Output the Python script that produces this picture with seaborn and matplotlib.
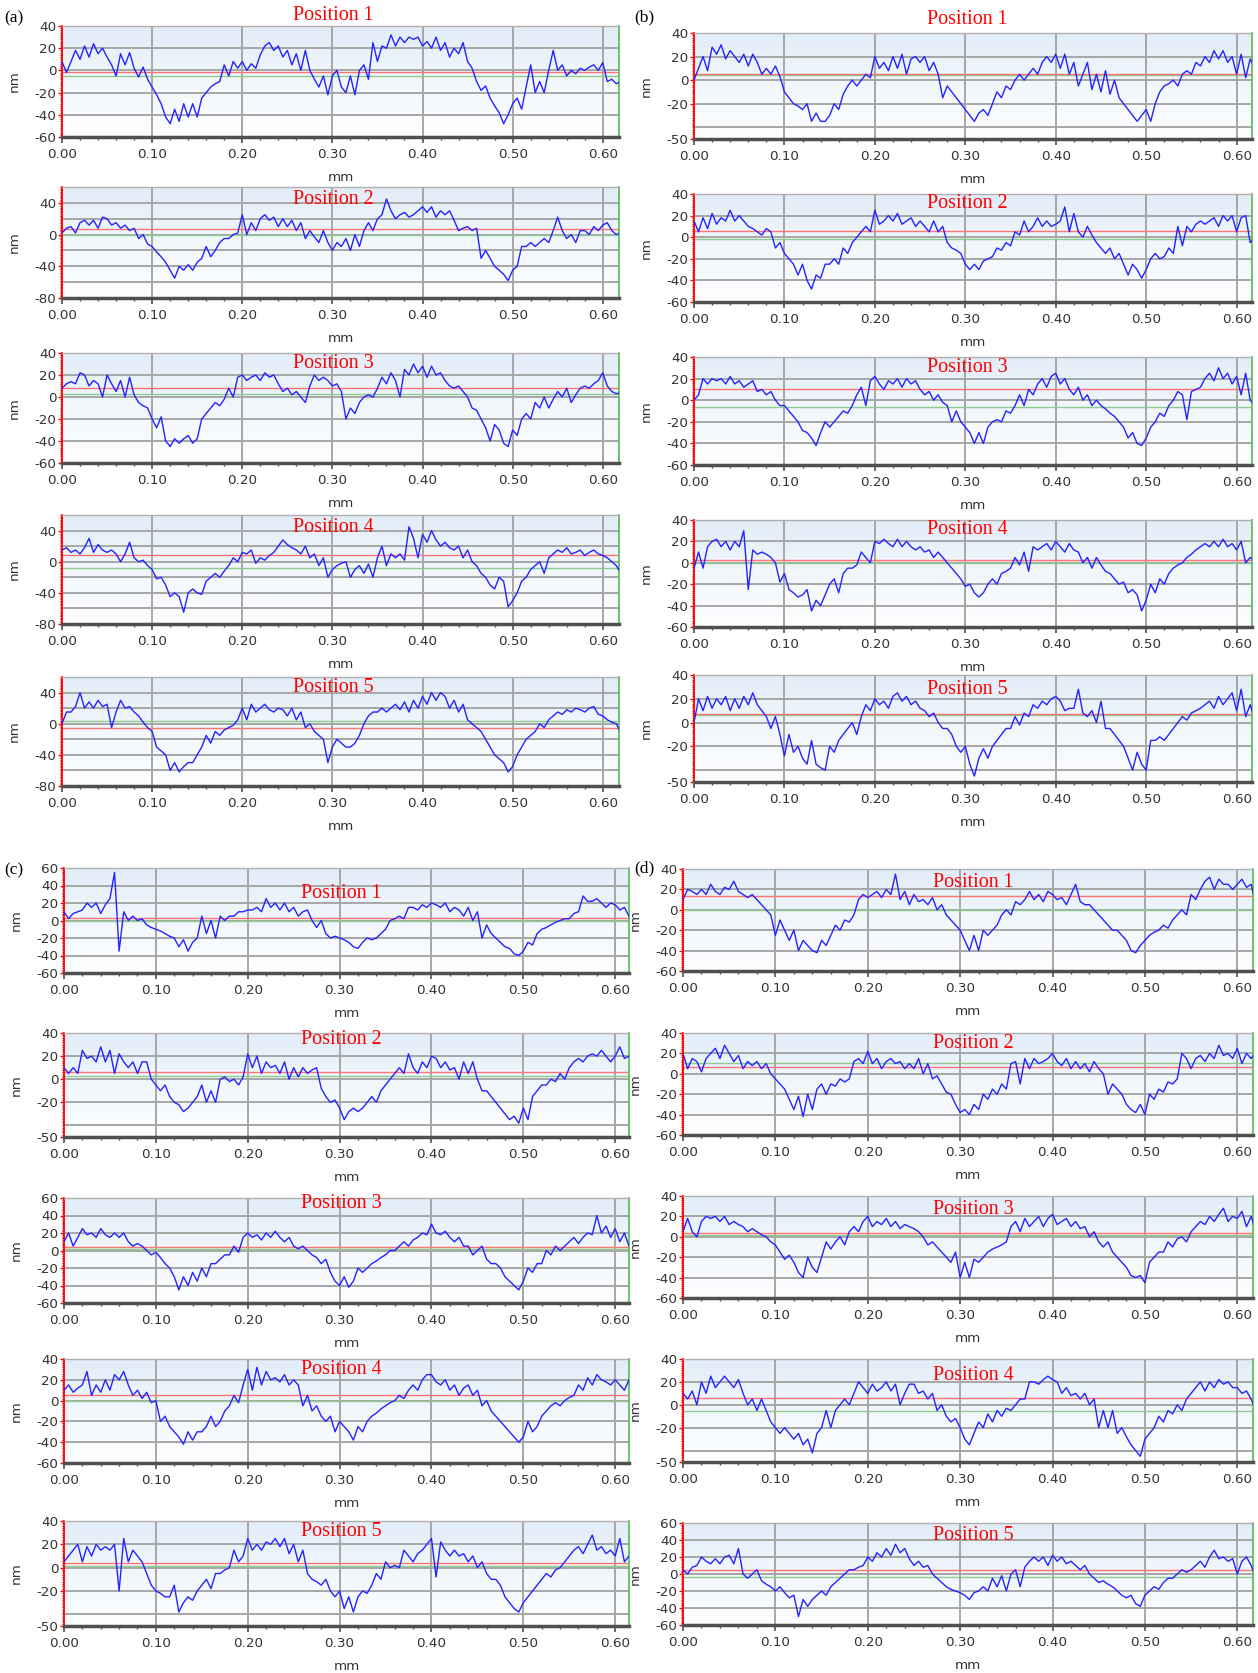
import numpy as np
import matplotlib
matplotlib.use("Agg")
import matplotlib.pyplot as plt
from matplotlib.colors import LinearSegmentedColormap
from matplotlib.ticker import MultipleLocator
import seaborn as sns

sns.set_style("white")
plt.rcParams['font.family'] = ['DejaVu Sans']

# surface profiles (nm), sampled every 0.005 mm from 0 to 0.62 mm
a1 = [8, -2, 8, 18, 10, 22, 12, 24, 15, 20,
      12, 5, -5, 15, 5, 16, 2, -6, 3, -8,
      -15, -22, -30, -42, -48, -35, -46, -30, -42, -30,
      -42, -25, -20, -15, -12, -10, 5, -5, 8, 2,
      8, 0, 6, 2, 14, 22, 25, 18, 22, 12,
      18, 5, 15, 0, 18, 0, -8, -15, -5, -22,
      -5, 0, -15, -20, -5, -22, 0, 5, -8, 25,
      8, 22, 20, 32, 22, 30, 25, 30, 28, 30,
      22, 26, 20, 30, 18, 25, 12, 20, 15, 25,
      8, 2, -10, -18, -14, -25, -32, -38, -48, -40,
      -30, -25, -35, -15, 5, -20, -10, -20, 0, 18,
      0, 5, -5, 0, -3, 2, 0, 3, 5, 0,
      7, -10, -8, -12, -10]
a2 = [2, 8, 10, 2, 15, 18, 12, 18, 8, 22,
      20, 12, 15, 8, 12, 5, 8, -5, 0, -12,
      -15, -22, -28, -35, -45, -55, -40, -45, -38, -45,
      -35, -30, -15, -28, -20, -10, -5, -5, 0, 2,
      25, 0, 15, 5, 20, 25, 18, 22, 10, 20,
      10, 18, 5, 15, -5, 5, -3, -10, 5, -10,
      -20, -10, -15, -5, -20, 0, -15, 5, 15, 5,
      20, 25, 45, 30, 20, 25, 28, 22, 25, 30,
      35, 28, 35, 22, 30, 25, 30, 18, 5, 8,
      10, 5, 8, -30, -20, -30, -40, -45, -50, -58,
      -45, -40, -15, -15, -10, -15, -10, -5, -10, 5,
      22, 5, -5, 0, -10, 5, 5, 0, 10, 5,
      12, 15, 5, 0, 2]
a3 = [8, 12, 14, 12, 22, 20, 10, 15, 12, 0,
      20, 12, 5, 15, 0, 18, 2, -5, -8, -10,
      -20, -28, -18, -40, -45, -38, -42, -38, -35, -42,
      -38, -20, -15, -10, -5, -8, -2, 8, 0, 18,
      20, 15, 18, 20, 15, 22, 18, 20, 12, 5,
      8, 2, 5, 0, -5, 10, 20, 15, 18, 15,
      10, 12, 5, -20, -10, -15, -5, 0, 2, 0,
      8, 18, 12, 22, 15, 0, 25, 20, 30, 22,
      28, 18, 28, 20, 22, 15, 10, 8, 10, 5,
      0, -10, -12, -20, -28, -40, -25, -30, -42, -45,
      -30, -35, -20, -15, -20, -5, -10, 0, -10, -2,
      5, 0, 8, -5, 2, 8, 10, 8, 12, 15,
      22, 10, 5, 3, 4]
a4 = [15, 18, 12, 15, 10, 18, 30, 12, 22, 15,
      12, 15, 10, 0, 10, 25, 5, 0, 2, -5,
      -10, -22, -20, -30, -45, -40, -45, -65, -40, -35,
      -40, -42, -25, -20, -15, -20, -12, -5, 5, 0,
      12, 10, 15, -2, 5, 2, 8, 12, 20, 28,
      22, 18, 15, 10, 20, 5, 10, -5, 5, -20,
      -10, -5, -2, 0, -20, -10, -5, -15, -3, -20,
      5, 20, -5, 10, 5, 10, 2, 45, 30, 5,
      35, 25, 40, 28, 20, 25, 18, 15, 20, 5,
      15, 0, -5, -15, -20, -30, -35, -20, -25, -58,
      -50, -40, -25, -20, -10, -5, 0, -15, 5, 10,
      15, 12, 18, 10, 12, 15, 8, 12, 15, 10,
      8, 5, 0, -5, -15]
a5 = [0, 15, 15, 22, 40, 20, 28, 20, 30, 22,
      25, -5, 15, 30, 20, 22, 15, 10, 2, -5,
      -10, -30, -35, -40, -60, -50, -62, -55, -50, -50,
      -40, -30, -15, -25, -10, -15, -8, -5, -2, 5,
      20, 5, 25, 15, 20, 25, 18, 15, 20, 18,
      10, 20, 5, 15, -5, 0, -10, -15, -20, -50,
      -30, -20, -25, -30, -30, -25, -15, 0, 10, 15,
      15, 20, 15, 20, 25, 18, 28, 15, 30, 20,
      35, 25, 40, 30, 40, 35, 20, 30, 15, 25,
      5, 0, -5, -10, -20, -30, -40, -45, -50, -62,
      -55, -40, -30, -20, -15, -10, 0, -5, 5, 10,
      15, 12, 18, 15, 20, 18, 15, 20, 22, 12,
      10, 5, 2, 0, -12]
b1 = [0, 10, 20, 8, 28, 22, 30, 18, 25, 20,
      15, 22, 12, 22, 15, 5, 10, 5, 12, 3,
      -10, -15, -20, -22, -25, -20, -35, -28, -35, -35,
      -30, -20, -25, -12, -5, 0, -5, 0, 5, 2,
      20, 10, 15, 8, 20, 10, 22, 5, 18, 20,
      15, 20, 8, 15, 5, -15, -5, -10, -15, -20,
      -25, -30, -35, -28, -25, -30, -20, -10, -15, -5,
      -8, 0, 5, 0, 5, 10, 5, 15, 20, 15,
      22, 10, 22, 5, 15, -5, 5, 15, -8, 5,
      -10, 8, -12, 0, -15, -20, -25, -30, -35, -30,
      -25, -35, -20, -10, -5, -3, 0, -5, 5, 8,
      5, 15, 12, 20, 15, 25, 18, 25, 15, 20,
      5, 22, 2, 18, 10]
b2 = [15, 5, 18, 8, 22, 12, 18, 15, 25, 15,
      20, 15, 10, 8, 5, 2, 8, 5, -10, -5,
      -15, -20, -25, -35, -25, -40, -48, -35, -38, -25,
      -25, -20, -25, -10, -15, -5, 0, 5, 10, 5,
      25, 12, 15, 20, 15, 22, 12, 15, 18, 10,
      15, 10, 5, 15, 5, 10, -5, -10, -12, -15,
      -25, -30, -25, -30, -22, -20, -18, -10, -12, -5,
      -8, 5, 2, 15, 5, 10, 18, 10, 15, 10,
      12, 15, 28, 5, 22, 5, 0, 10, 2, -5,
      -10, -15, -10, -20, -15, -25, -35, -25, -30, -38,
      -30, -20, -15, -20, -18, -10, -15, 10, -8, 10,
      5, 12, 15, 12, 15, 18, 10, 20, 15, 20,
      5, 18, 20, -5, 0]
b3 = [0, 5, 20, 15, 20, 18, 20, 15, 22, 15,
      18, 12, 15, 18, 8, 10, 5, 8, 0, -5,
      -5, -10, -15, -20, -28, -30, -35, -42, -30, -20,
      -25, -20, -15, -10, -12, -5, 5, 12, -5, 18,
      22, 15, 10, 18, 15, 20, 12, 20, 15, 18,
      10, 5, 8, 0, 5, -2, -5, -20, -10, -20,
      -25, -30, -40, -30, -40, -25, -20, -18, -20, -10,
      -12, -5, 5, -5, 10, 5, 15, 20, 12, 22,
      25, 15, 20, 10, 5, 12, 0, 5, -5, 0,
      -5, -8, -12, -15, -20, -25, -35, -30, -40, -42,
      -35, -25, -20, -12, -15, -5, 0, 8, 5, -18,
      8, 10, 12, 20, 25, 18, 30, 20, 25, 15,
      22, 5, 25, 0, -5]
b4 = [-5, 10, -5, 15, 20, 22, 15, 20, 12, 20,
      15, 30, -25, 12, 8, 10, 8, 5, 0, -18,
      -10, -25, -28, -32, -30, -25, -45, -35, -40, -30,
      -20, -15, -28, -10, -5, -5, -2, 10, 5, 0,
      20, 18, 22, 18, 15, 22, 15, 20, 15, 12,
      15, 10, 12, 5, 10, 5, 0, -5, -10, -15,
      -22, -20, -28, -32, -28, -20, -15, -20, -10, -8,
      -5, 5, -2, 10, -8, 15, 12, 15, 18, 12,
      20, 15, 10, 18, 12, 10, 0, 5, -5, 5,
      -2, -8, -10, -15, -20, -18, -28, -25, -30, -45,
      -35, -20, -28, -15, -20, -10, -5, -2, 0, 5,
      8, 12, 15, 18, 15, 20, 15, 22, 15, 18,
      12, 20, 0, 5, 2]
b5 = [0, 20, 10, 22, 12, 20, 15, 22, 10, 20,
      12, 22, 15, 25, 15, 10, 5, -5, 5, -10,
      -28, -10, -25, -20, -30, -35, -15, -35, -38, -40,
      -20, -25, -15, -10, -5, 0, -10, 5, 15, 10,
      20, 15, 18, 12, 22, 25, 18, 22, 15, 18,
      12, 10, 5, 8, 0, -5, -5, -10, -20, -25,
      -20, -35, -45, -30, -22, -30, -20, -15, -10, -5,
      -5, 5, -2, 8, 5, 15, 12, 18, 15, 20,
      22, 18, 10, 12, 12, 28, 8, 5, 10, 0,
      18, -5, -5, -10, -15, -20, -30, -40, -25, -35,
      -40, -15, -15, -12, -15, -10, -5, 0, 5, 2,
      8, 10, 12, 15, 18, 12, 22, 15, 20, 25,
      10, 28, 5, 15, 3]
c1 = [10, 2, 8, 10, 12, 20, 15, 20, 8, 18,
      25, 55, -35, 10, 0, 5, 0, 2, -5, -8,
      -10, -12, -15, -18, -20, -30, -22, -35, -25, -20,
      5, -15, 0, -20, 5, 0, 5, 5, 10, 10,
      12, 12, 15, 10, 25, 15, 20, 12, 20, 10,
      15, 5, 10, 12, 0, -8, 0, -15, -20, -18,
      -20, -22, -25, -30, -32, -25, -20, -22, -20, -15,
      -10, 0, 2, 5, 2, 15, 15, 12, 18, 15,
      20, 18, 15, 20, 10, 15, 12, 5, 15, 0,
      10, -20, -5, -15, -20, -25, -30, -32, -38, -40,
      -35, -25, -28, -15, -10, -8, -5, -2, 0, 2,
      2, 8, 10, 28, 22, 22, 25, 20, 15, 20,
      18, 12, 15, 5, -15]
c2 = [10, 5, 10, 5, 25, 18, 20, 15, 28, 15,
      25, 5, 22, 15, 10, 15, 5, 15, 15, 0,
      -5, -10, -5, -15, -20, -22, -28, -25, -20, -15,
      -5, -20, -10, -20, 0, 2, -2, 0, -5, 2,
      22, 10, 20, 5, 15, 10, 12, 5, 15, 0,
      10, 2, 10, 5, 8, 10, -8, -15, -20, -18,
      -25, -35, -28, -25, -28, -25, -20, -15, -20, -10,
      -5, 0, 5, 10, 5, 22, 10, 5, 15, 10,
      20, 18, 10, 15, 8, 10, 0, 15, 5, 15,
      0, -10, -10, -15, -20, -25, -30, -35, -32, -38,
      -25, -35, -15, -10, -5, -5, 0, -2, 5, 0,
      10, 15, 18, 15, 20, 22, 20, 25, 20, 15,
      20, 28, 18, 20, 10]
c3 = [10, 20, 5, 15, 25, 18, 20, 15, 25, 18,
      15, 20, 15, 20, 10, 5, 8, 5, 0, -5,
      -2, -8, -15, -20, -30, -45, -30, -40, -25, -35,
      -20, -30, -15, -15, -10, -5, -5, 5, -2, 15,
      20, 15, 18, 12, 20, 15, 22, 15, 10, 15,
      5, 2, 5, 0, -5, -8, -15, -10, -25, -35,
      -40, -30, -42, -35, -20, -25, -20, -15, -12, -8,
      -5, 0, 0, 5, 10, 5, 12, 15, 20, 18,
      30, 20, 18, 22, 15, 10, 15, 5, 5, -5,
      0, 5, -10, -15, -15, -20, -30, -35, -40, -45,
      -35, -20, -25, -15, -15, 0, -5, 5, 0, 5,
      10, 15, 8, 15, 20, 18, 40, 20, 28, 15,
      25, 10, 20, 5, 10]
c4 = [10, 15, 8, 12, 15, 28, 5, 15, 8, 20,
      10, 25, 20, 28, 15, 5, 10, 2, 8, -2,
      0, -20, -15, -25, -30, -35, -42, -30, -38, -30,
      -30, -25, -15, -25, -20, -10, -5, 5, -2, 15,
      30, 10, 32, 15, 28, 20, 22, 18, 25, 15,
      20, 15, -5, 5, -10, -5, -15, -20, -15, -30,
      -20, -25, -30, -38, -25, -30, -20, -15, -12, -8,
      -5, -2, 0, 5, 2, 10, 15, 10, 20, 25,
      25, 18, 15, 20, 10, 15, 5, 12, 15, 5,
      10, -5, 0, -10, -15, -20, -25, -30, -35, -40,
      -35, -20, -30, -25, -15, -10, -5, -2, -5, 0,
      3, 5, 15, 10, 22, 15, 25, 20, 18, 15,
      20, 15, 10, 20, 5]
c5 = [5, 10, 15, 20, 5, 18, 10, 20, 15, 18,
      15, 20, -20, 25, 5, 15, 10, 5, -5, -15,
      -20, -22, -25, -25, -15, -38, -30, -25, -28, -20,
      -15, -10, -18, -5, -5, -2, 0, 15, 5, 10,
      25, 15, 20, 15, 22, 20, 25, 18, 25, 12,
      20, 5, 15, -5, -10, -12, -15, -10, -20, -25,
      -20, -35, -25, -38, -25, -20, -22, -15, -5, -10,
      5, 0, 2, 0, 15, 10, 5, 12, 15, 20,
      25, -8, 22, 15, 10, 15, 10, 12, 5, 10,
      0, 5, -5, -10, -10, -15, -25, -30, -35, -38,
      -30, -25, -20, -15, -10, -5, -8, -2, 0, 5,
      10, 15, 18, 12, 20, 28, 15, 18, 12, 15,
      10, 25, 5, 10, 8]
d1 = [10, 20, 18, 15, 20, 15, 25, 18, 15, 22,
      20, 28, 18, 15, 12, 15, 10, 5, 0, -5,
      -25, -10, -20, -30, -20, -40, -30, -35, -40, -42,
      -30, -35, -25, -15, -20, -10, -12, -5, 10, 15,
      12, 15, 18, 12, 20, 15, 35, 10, 18, 5,
      15, 8, 10, 5, 12, 0, 5, -5, -10, -15,
      -20, -30, -40, -25, -40, -20, -25, -20, -15, -5,
      0, -5, 8, 5, 10, 18, 10, 15, 8, 18,
      15, 10, 12, 5, 15, 25, 8, 5, 5, 0,
      -5, -10, -15, -20, -20, -25, -30, -40, -42, -35,
      -30, -25, -22, -20, -15, -18, -10, -5, 0, -5,
      15, 10, 20, 28, 32, 20, 30, 25, 25, 20,
      25, 30, 22, 25, 5]
d2 = [20, 5, 15, 12, 2, 15, 20, 25, 15, 28,
      20, 12, 18, 5, 12, 8, 12, 5, 10, 0,
      -5, -10, -15, -25, -35, -22, -42, -20, -35, -15,
      -10, -20, -10, -12, -5, -8, -5, 12, 15, 10,
      22, 10, 15, 5, 12, 15, 10, 12, 5, 10,
      5, 15, 0, 10, -5, -2, -10, -18, -20, -30,
      -38, -35, -40, -30, -35, -20, -25, -15, -20, -10,
      -15, 10, 12, -10, 15, 5, 15, 10, 12, 15,
      20, 12, 8, 15, 5, 12, 5, 10, 2, 12,
      5, 0, -20, -10, -15, -20, -30, -35, -38, -30,
      -40, -20, -25, -15, -18, -8, -10, -5, 20, 15,
      5, 15, 18, 12, 20, 15, 28, 18, 20, 15,
      25, 10, 20, 15, 22]
d3 = [5, 18, 5, 0, 15, 20, 18, 20, 15, 20,
      12, 15, 12, 10, 5, 8, 5, 2, 0, -5,
      -8, -15, -22, -18, -25, -35, -40, -20, -30, -35,
      -20, -5, -12, -5, 0, -8, 5, 10, 5, 15,
      20, 10, 15, 12, 18, 10, 15, 8, 12, 10,
      8, 5, 0, -8, -5, -10, -15, -20, -25, -15,
      -40, -25, -40, -22, -25, -20, -15, -12, -10, -8,
      -5, 10, 15, 5, 18, 10, 15, 20, 10, 18,
      22, 12, 15, 18, 10, 15, 8, 10, 0, 5,
      -5, -10, -5, -15, -20, -25, -30, -38, -40, -38,
      -45, -25, -20, -15, -15, -5, -10, -2, 0, -5,
      5, 10, 15, 12, 20, 15, 22, 28, 15, 20,
      18, 25, 10, 20, 5]
d4 = [10, 5, 12, 0, 20, 10, 25, 15, 20, 25,
      20, 15, 22, 10, 0, 5, -5, 5, -5, -15,
      -20, -25, -20, -25, -30, -25, -35, -30, -42, -25,
      -20, -5, -20, -5, 0, 5, 0, 10, 20, 15,
      10, 18, 12, 15, 20, 12, 18, 0, 10, 18,
      18, 10, 12, 5, 10, -5, 0, -10, -15, -12,
      -20, -30, -35, -25, -15, -20, -8, -15, -5, -10,
      -3, -5, 0, 5, 5, 20, 20, 18, 22, 25,
      22, 20, 10, 15, 8, 10, 5, 10, 0, 5,
      -20, -5, -20, -5, -25, -20, -28, -35, -40, -45,
      -30, -25, -20, -10, -15, -5, -8, 0, -5, 5,
      10, 15, 20, 12, 20, 15, 22, 18, 20, 15,
      15, 10, 12, 5, -5]
d5 = [5, 0, 8, 10, 20, 15, 12, 18, 12, 20,
      22, 12, 30, 0, -5, 0, 5, -8, -12, -15,
      -20, -15, -22, -28, -25, -50, -30, -38, -30, -25,
      -20, -25, -15, -10, -5, 0, 5, 5, 8, 10,
      20, 15, 25, 20, 30, 22, 35, 25, 30, 18,
      10, 15, 8, 10, 0, -5, -10, -15, -18, -20,
      -22, -25, -30, -22, -20, -15, -20, -5, -15, -2,
      -20, 0, 5, -15, 8, 15, 20, 15, 20, 10,
      22, 15, 20, 12, 15, 10, 5, 10, 0, -5,
      -10, -8, -12, -15, -20, -25, -28, -25, -35, -38,
      -25, -20, -15, -18, -10, -5, -5, 0, 5, 2,
      5, 10, 15, 8, 20, 28, 18, 20, 15, 18,
      0, 15, 20, 10, -5]

panels = ['a1', 'a2', 'a3', 'a4', 'a5', 'b1', 'b2', 'b3', 'b4', 'b5',
          'c1', 'c2', 'c3', 'c4', 'c5', 'd1', 'd2', 'd3', 'd4', 'd5']
profiles = [a1, a2, a3, a4, a5, b1, b2, b3, b4, b5,
            c1, c2, c3, c4, c5, d1, d2, d3, d4, d5]

t20 = [-60, -40, -20, 0, 20, 40]
t40 = [-80, -40, 0, 40]
t50 = [-50, -20, 0, 20, 40]
t60 = [-60, -40, -20, 0, 20, 40, 60]
y_ticks = [t20, t40, t20, t40, t40, t50, t20, t20, t20, t50,
           t60, t50, t60, t20, t50, t20, t20, t20, t50, t60]
y_tops = [40, 60, 40, 60, 60, 40, 40, 40, 40, 40,
          60, 40, 60, 40, 40, 40, 40, 40, 40, 60]
red_levels = [-1, 7, 8, 8, -6, 5, 6, 10, 2.5, 7,
              2.5, 6, 4, 5, 4, 14, 7, 3.5, 5.5, 4.5]
green_levels = [-5, 0, 2.5, -8, 4, 4, -2, -6, 0, 6,
                -0.5, 3, 2, -0.5, 1.5, 0, 11, 1.5, -5, -4]

# layout in pixels of the 1258 x 1673 canvas
W, H = 1258, 1673
col_x = {'a': (62, 619), 'b': (694, 1252), 'c': (64, 629), 'd': (683, 1253)}
x_right = {'a': 0.618, 'b': 0.617, 'c': 0.615, 'd': 0.617}
row_y = {'a': [(26, 137), (187, 298), (353, 463), (515, 624), (677, 786)],
         'b': [(33, 139), (194, 302), (357, 465), (520, 627), (675, 782)],
         'c': [(868, 973), (1033, 1137), (1198, 1303), (1359, 1463), (1521, 1626)],
         'd': [(869, 971), (1033, 1135), (1196, 1298), (1359, 1462), (1523, 1625)]}
title_x = {'a': 333, 'b': 967, 'c': 341, 'd': 973}
title_y = {'a': [16, 200, 363, 528, 688], 'b': [19, 204, 367, 529, 690],
           'c': [893, 1039, 1203, 1370, 1532], 'd': [882, 1043, 1209, 1375, 1536]}
tag_xy = {'a': (4, 18), 'b': (634, 17), 'c': (4, 870), 'd': (634, 868)}

bg = LinearSegmentedColormap.from_list('bg', ['#fdfeff', '#f2f7fc', '#e2edf8'])
grad = np.linspace(0, 1, 256).reshape(-1, 1)
tick_col = '#333333'

fig = plt.figure(figsize=(W / 100, H / 100), dpi=100)
fig.patch.set_facecolor('white')

for i, key in enumerate(panels):
    col, row = key[0], int(key[1]) - 1
    left, right = col_x[col]
    top, bottom = row_y[col][row]
    ax = fig.add_axes([left / W, 1 - bottom / H, (right - left) / W, (bottom - top) / H])

    prof = profiles[i]
    x = np.linspace(0, 0.62, len(prof))
    ymin, ymax = y_ticks[i][0], y_tops[i]

    ax.imshow(grad, extent=[0, 1, 0, 1], transform=ax.transAxes, aspect='auto',
              cmap=bg, origin='lower', zorder=0)
    for gy in range(-80, 61, 20):
        if ymin < gy < ymax:
            ax.axhline(gy, color='#a6a6a6', lw=1.4, zorder=1)
    for gx in [0.1, 0.2, 0.3, 0.4, 0.5, 0.6]:
        ax.axvline(gx, color='#a6a6a6', lw=1.4, zorder=1)
    ax.axhline(green_levels[i], color='#8fca8f', lw=1.0, zorder=2)
    ax.axhline(red_levels[i], color='#ff7373', lw=1.0, zorder=2)

    sns.lineplot(x=x, y=prof, ax=ax, color='#2323ff', lw=1.0, zorder=3)

    ax.set_xlim(0, x_right[col])
    ax.set_ylim(ymin, ymax)
    ax.set_xticks([0, 0.1, 0.2, 0.3, 0.4, 0.5, 0.6])
    ax.set_xticklabels(['0.00', '0.10', '0.20', '0.30', '0.40', '0.50', '0.60'])
    ax.xaxis.set_minor_locator(MultipleLocator(0.02))
    ax.set_yticks(y_ticks[i])
    ax.set_yticklabels([str(v) for v in y_ticks[i]])
    ax.yaxis.set_minor_locator(MultipleLocator(2))

    ax.tick_params(axis='x', which='major', direction='out', length=4, width=1.2,
                   color='#505050', labelsize=9.7, labelcolor=tick_col, pad=4)
    ax.tick_params(axis='x', which='minor', direction='out', length=2.5, width=1.0,
                   color='#505050')
    ax.tick_params(axis='y', which='major', direction='out', length=3, width=1.0,
                   color='red', labelsize=9.7, labelcolor=tick_col, pad=1)
    ax.tick_params(axis='y', which='minor', direction='out', length=1.5, width=0.8,
                   color='red')
    ax.tick_params(bottom=True, left=True, which='both')

    ax.spines['left'].set_color('red')
    ax.spines['left'].set_linewidth(1.3)
    ax.spines['right'].set_color('#5fbf5f')
    ax.spines['right'].set_linewidth(1.3)
    ax.spines['top'].set_color('#b0b0b0')
    ax.spines['top'].set_linewidth(1.0)
    ax.spines['bottom'].set_color('#505050')
    ax.spines['bottom'].set_linewidth(2.5)

    ax.set_xlabel('mm', fontsize=9.7, color=tick_col, labelpad=7)
    ax.set_ylabel('nm', fontsize=9.7, color=tick_col)
    ax.yaxis.set_label_coords(-41 / (right - left), 0.5)

    fig.text(title_x[col] / W, 1 - title_y[col][row] / H, f'Position {row + 1}',
             color='red', fontsize=14.4, family='Liberation Serif',
             ha='center', va='center', zorder=10)

for col, (tx, ty) in tag_xy.items():
    fig.text(tx / W, 1 - ty / H, f'({col})', color='black', fontsize=12.5,
             family='Liberation Serif', ha='left', va='center', zorder=10)

fig.savefig('out.png', dpi=100)
